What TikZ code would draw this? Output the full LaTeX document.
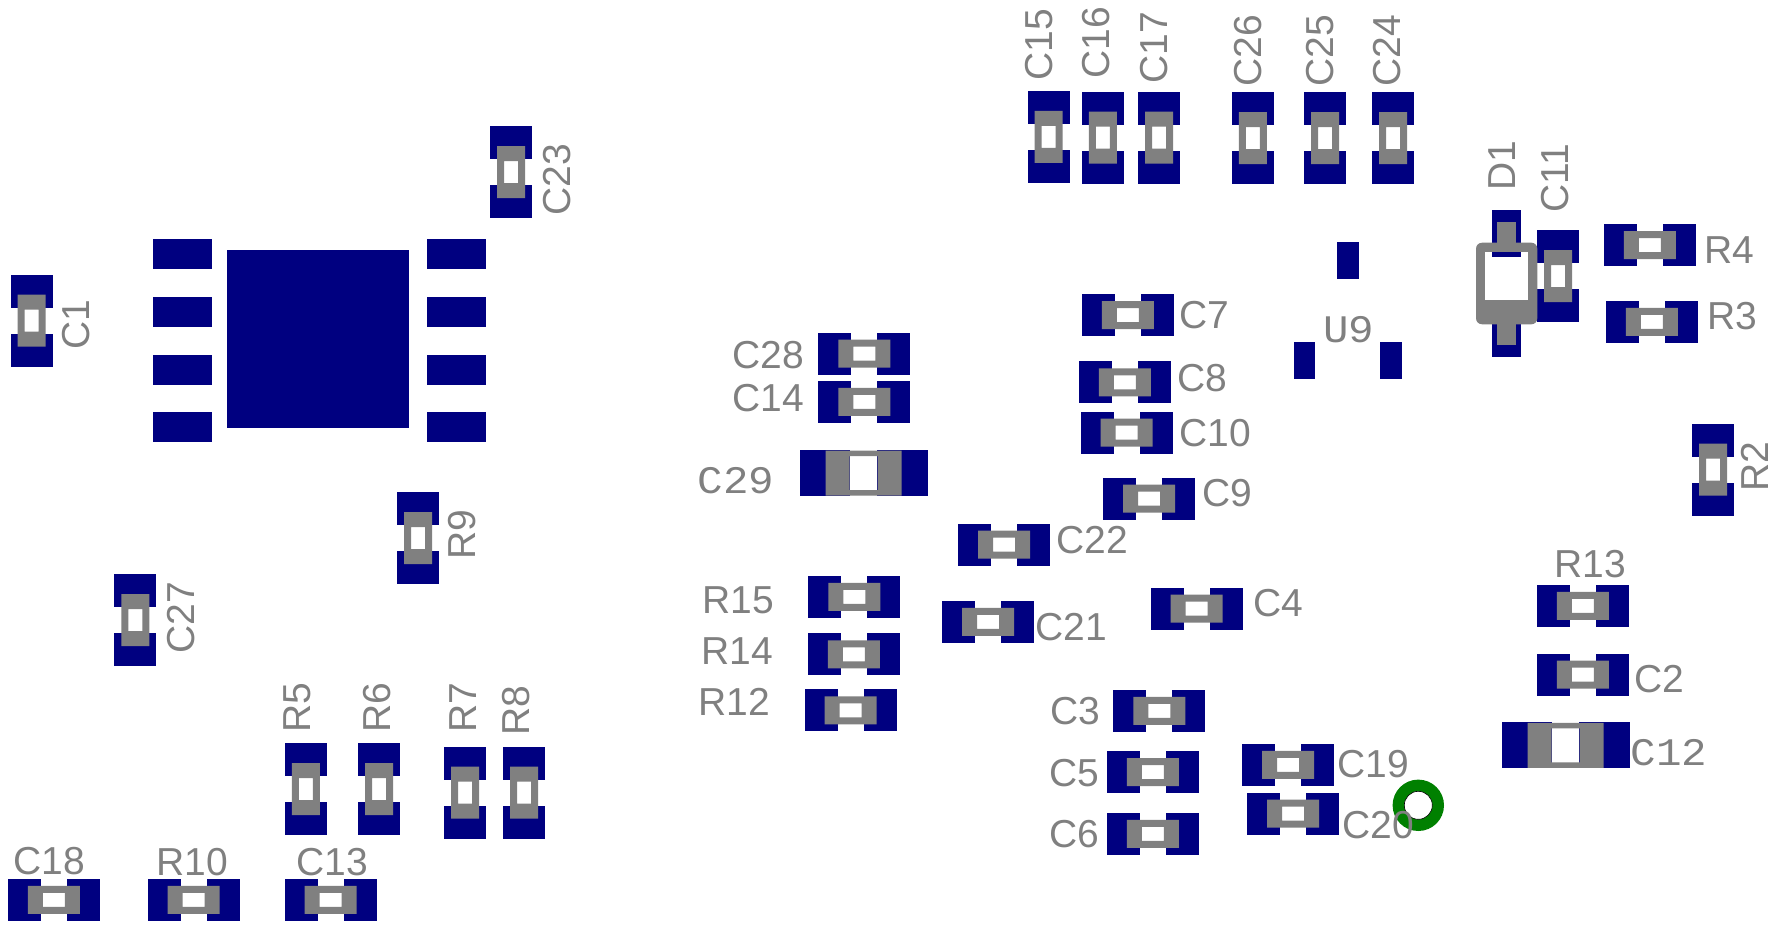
\documentclass[tikz,border=0pt]{standalone}
\usepackage{fontspec}
\setmainfont{Liberation Sans}
\newfontfamily\silkmono[FakeStretch=1.09]{Liberation Mono}
\definecolor{padblue}{HTML}{000080}
\definecolor{silkgray}{HTML}{808080}
\definecolor{viagreen}{HTML}{008000}

\begin{document}
\begin{tikzpicture}[x=0.5pt, y=-0.5pt]
    \tikzstyle{pad} = [fill=padblue, draw=none]
    \tikzstyle{pad_ic} = [fill=padblue, draw=none, inner sep=0, minimum width=29.5pt, minimum height=15pt]
    \tikzstyle{pad_sot} = [fill=padblue, draw=none, inner sep=0, minimum width=10.8pt, minimum height=18.5pt]
    \tikzstyle{silk} = [fill=silkgray, draw=none, even odd rule]
    \tikzstyle{ref_h} = [inner sep=0, text=silkgray, font=\fontsize{19.5}{20}\selectfont]
    \tikzstyle{ref_v} = [ref_h, rotate=90]
    \tikzstyle{ref_mono} = [inner sep=0, text=silkgray, font=\silkmono\fontsize{19.5}{20}\selectfont]

    % small part: #1,#2 centre, #3 angle
    \newcommand{\smallpart}[3]{
        \begin{scope}[shift={(#1,#2)}, rotate=#3]
            \fill[pad] (-46,-21) rectangle (-13,21);
            \fill[pad] (13,-21) rectangle (46,21);
            \fill[silk] (-26,-14) rectangle (26,14) (-11,-7) rectangle (11,7);
        \end{scope}
    }
    % large part: #1,#2 centre, #3 angle
    \newcommand{\largepart}[3]{
        \begin{scope}[shift={(#1,#2)}, rotate=#3]
            \fill[pad] (-64,-23) rectangle (-13.5,23);
            \fill[pad] (13.5,-23) rectangle (64,23);
            \fill[silk] (-38,-22.5) rectangle (38,22.5) (-14,-17) rectangle (14,17);
        \end{scope}
    }

    \useasboundingbox (0,0) rectangle (1779,926);

    % ---------------------------------------

    \node[pad, inner sep=0, minimum width=91.2pt, minimum height=89.2pt] (ic_pad) at (317.85,339.2) {};
    \node[pad_ic] (ic_a) at (182.2,254.3) {};
    \node[pad_ic] (ic_b) at (182.2,312) {};
    \node[pad_ic] (ic_c) at (182.2,369.7) {};
    \node[pad_ic] (ic_d) at (182.2,427.3) {};
    \node[pad_ic] (ic_e) at (456.7,254.3) {};
    \node[pad_ic] (ic_f) at (456.7,312) {};
    \node[pad_ic] (ic_g) at (456.7,369.7) {};
    \node[pad_ic] (ic_h) at (456.7,427.3) {};

    \node[pad_sot] (u9_a) at (1347.8,260.5) {};
    \node[pad_sot] (u9_b) at (1304.5,360.5) {};
    \node[pad_sot] (u9_c) at (1390.8,360.5) {};

    % ---------------------------------------

    \smallpart{1048.5}{136.8}{90}
    \smallpart{1102.8}{137.7}{90}
    \smallpart{1159}{137.7}{90}
    \smallpart{1252.8}{138}{90}
    \smallpart{1325}{138}{90}
    \smallpart{1393}{138}{90}
    \smallpart{1558}{276}{90}
    \smallpart{511}{172.2}{90}
    \smallpart{31.5}{320.5}{90}
    \smallpart{418.2}{538}{90}
    \smallpart{135.4}{620}{90}
    \smallpart{305.8}{789}{90}
    \smallpart{379}{789}{90}
    \smallpart{465.2}{792.5}{90}
    \smallpart{524.2}{792.5}{90}
    \smallpart{1713.2}{469.7}{90}

    \smallpart{1127.8}{315.2}{0}
    \smallpart{1124.8}{382.3}{0}
    \smallpart{1126.7}{432.6}{0}
    \smallpart{1149.2}{498.7}{0}
    \smallpart{1004}{544.6}{0}
    \smallpart{988}{621.8}{0}
    \smallpart{1196.5}{608.7}{0}
    \smallpart{864.3}{353.5}{0}
    \smallpart{864.3}{401.8}{0}
    \smallpart{854.4}{596.8}{0}
    \smallpart{853.8}{654.3}{0}
    \smallpart{850.6}{710.3}{0}
    \smallpart{1159.3}{710.8}{0}
    \smallpart{1152.8}{772}{0}
    \smallpart{1152.8}{833.8}{0}
    \smallpart{1288.2}{764.8}{0}
    \smallpart{1293.2}{813.5}{0}
    \smallpart{1582.8}{605.9}{0}
    \smallpart{1582.8}{674.5}{0}
    \smallpart{1649.8}{245}{0}
    \smallpart{1651.8}{321.8}{0}
    \smallpart{53.8}{899.8}{0}
    \smallpart{193.7}{899.8}{0}
    \smallpart{330.7}{899.8}{0}

    \largepart{863.7}{473}{0}
    \largepart{1565.5}{745.3}{0}

    % ---------------------------------------

    \fill[pad] (1492.3,210.3) rectangle (1521,256.7);
    \fill[pad] (1492.3,310.5) rectangle (1521,356.7);
    \fill[silk, rounded corners=3pt] (1476,242.7) rectangle (1537.3,324.3);
    \fill[white] (1485,251.7) rectangle (1528.3,300);
    \fill[pad] (1492.3,251.7) rectangle (1521,256.7);
    \fill[silkgray] (1497,221.7) rectangle (1516.3,242.7);
    \fill[silkgray] (1497,324.3) rectangle (1516.3,345);

    % ---------------------------------------

    \node[circle, fill=viagreen, inner sep=0, minimum size=25.7pt] (via_ring) at (1418.3,805.3) {};
    \node[circle, fill=white, draw=black, line width=0.3pt, inner sep=0, minimum size=14pt] (via_hole) at (via_ring) {};

    % ---------------------------------------

    \node[ref_v] (lC15) at (1039,45) {C15};
    \node[ref_v] (lC16) at (1096,43) {C16};
    \node[ref_v] (lC17) at (1154,48) {C17};
    \node[ref_v] (lC26) at (1248,51) {C26};
    \node[ref_v] (lC25) at (1320,51) {C25};
    \node[ref_v] (lC24) at (1387,51) {C24};
    \node[ref_v] (lD1) at (1502,166) {D1};
    \node[ref_v] (lC11) at (1555,178) {C11};
    \node[ref_v] (lR2) at (1755,467) {R2};
    \node[ref_v] (lC23) at (557,180) {C23};
    \node[ref_v] (lC1) at (76,325) {C1};
    \node[ref_v] (lR9) at (462,535) {R9};
    \node[ref_v] (lC27) at (181.5,618) {C27};
    \node[ref_v] (lR5) at (297,708) {R5};
    \node[ref_v] (lR6) at (376.7,708) {R6};
    \node[ref_v] (lR7) at (463,708) {R7};
    \node[ref_v] (lR8) at (516,711) {R8};

    \node[ref_h] (lC7) at (1204,315.5) {C7};
    \node[ref_h] (lC8) at (1202,378) {C8};
    \node[ref_h] (lC10) at (1215,433.5) {C10};
    \node[ref_h] (lC9) at (1227,493.5) {C9};
    \node[ref_h] (lC22) at (1092,540.5) {C22};
    \node[ref_h] (lC21) at (1071.5,627.5) {C21};
    \node[ref_h] (lC4) at (1278,603.5) {C4};
    \node[ref_h] (lC28) at (768,355) {C28};
    \node[ref_h] (lC14) at (768,398) {C14};
    \node[ref_h] (lR15) at (738,600.5) {R15};
    \node[ref_h] (lR14) at (737,651) {R14};
    \node[ref_h] (lR12) at (734,702) {R12};
    \node[ref_h] (lC3) at (1075,711.5) {C3};
    \node[ref_h] (lC5) at (1074,772.7) {C5};
    \node[ref_h] (lC6) at (1074,834) {C6};
    \node[ref_h] (lC19) at (1373,764.5) {C19};
    \node[ref_h] (lC20) at (1378,825) {C20};
    \node[ref_h] (lR13) at (1590.5,564) {R13};
    \node[ref_h] (lC2) at (1659,679.5) {C2};
    \node[ref_h] (lR4) at (1729,250) {R4};
    \node[ref_h] (lR3) at (1732,316) {R3};
    \node[ref_h] (lC18) at (49,860.8) {C18};
    \node[ref_h] (lR10) at (192.5,862.5) {R10};
    \node[ref_h] (lC13) at (332,862.5) {C13};

    \node[ref_mono] (lC29) at (736,481) {C29};
    \node[ref_mono] (lC12) at (1669,753) {C12};
    \node[ref_mono] (lU9) at (1348.5,329.5) {U9};

\end{tikzpicture}
\end{document}
